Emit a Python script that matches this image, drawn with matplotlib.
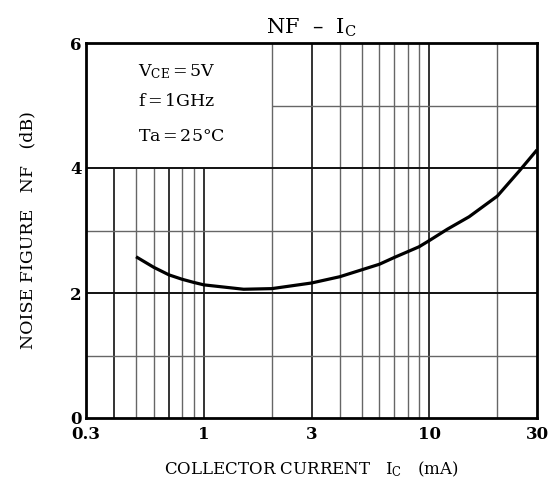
import matplotlib
matplotlib.use("Agg")
import matplotlib.pyplot as plt

# curve
ic = [0.5, 0.6, 0.7, 0.8, 0.9, 1.0, 1.5, 2.0, 3.0, 4.0, 5.0, 6.0, 7.0, 8.0, 9.0,
      10.0, 12.0, 15.0, 20.0, 25.0, 30.0]
nf = [2.58, 2.41, 2.29, 2.22, 2.17, 2.13, 2.06, 2.07, 2.16, 2.26, 2.37, 2.46, 2.57, 2.66, 2.74,
      2.84, 3.02, 3.22, 3.55, 3.95, 4.29]

xticks = [0.3, 1, 3, 10, 30]
xticklabels = ["0.3", "1", "3", "10", "30"]
yticks = [0, 2, 4, 6]

vgrid_dark = [0.4, 0.7, 1, 3, 10]
vgrid_light = [0.5, 0.6, 0.8, 0.9, 2, 4, 5, 6, 7, 8, 9, 20]
hgrid_dark = [2, 4]
hgrid_light = [1, 3]

conditions = ["V$_{\\mathrm{CE}}$$\\,$=$\\,$5V", "f$\\,$=$\\,$1GHz", "Ta$\\,$=$\\,$25°C"]

plt.rcParams['font.family'] = ['DejaVu Serif']
plt.rcParams['mathtext.fontset'] = 'dejavuserif'

fig = plt.figure(figsize=(5.49, 4.84), dpi=100)
ax = fig.add_axes([86/549, 66/484, 451/549, 375/484])
ax.set_xscale('log')
ax.set_xlim(0.3, 30)
ax.set_ylim(0, 6)

# grid, with the top-left corner left blank for the conditions box
box_x, box_y = 2.0, 4.0
for xs, col, lw in [(vgrid_dark, '#111111', 1.2), (vgrid_light, '#666666', 1.0)]:
    for x in xs:
        top = box_y if x < box_x else 6
        ax.vlines(x, 0, top, color=col, lw=lw, zorder=1)
for ys, col, lw in [(hgrid_dark, '#111111', 1.4), (hgrid_light, '#666666', 1.0)]:
    ax.hlines(ys, 0.3, 30, color=col, lw=lw, zorder=1)
ax.hlines(5, box_x, 30, color='#666666', lw=1.0, zorder=1)

ax.plot(ic, nf, color='black', lw=2.3, zorder=3, solid_capstyle='butt')

for txt, yy in zip(conditions, [5.54, 5.06, 4.5]):
    ax.text(0.51, yy, txt, fontsize=12.5, va='center', ha='left')

ax.set_xticks(xticks)
ax.set_xticklabels(xticklabels, fontsize=12, fontweight='bold')
ax.xaxis.set_minor_locator(matplotlib.ticker.NullLocator())
ax.set_yticks(yticks)
ax.set_yticklabels([str(v) for v in yticks], fontsize=12, fontweight='bold',
                   va='center_baseline')
ax.tick_params(axis='x', length=0, pad=6)
ax.tick_params(axis='y', length=0, pad=3)

for s in ax.spines.values():
    s.set_linewidth(2)
    s.set_color('black')

ax.set_title("NF  –  I$_{\\mathrm{C}}$", fontsize=15, pad=7)
ax.set_xlabel("COLLECTOR CURRENT   I$_{\\mathrm{C}}$   (mA)", fontsize=12, labelpad=12)
ax.set_ylabel("NOISE FIGURE   NF   (dB)", fontsize=12.5, labelpad=24)

fig.savefig("out.png", dpi=100)
